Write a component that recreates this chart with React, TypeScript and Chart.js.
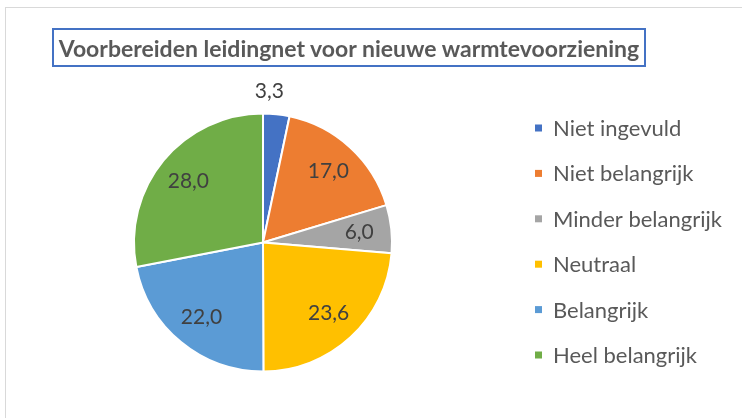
import React, { useEffect, useRef } from "react";
import { Chart, registerables } from "chart.js";

Chart.register(...registerables);

const titleText = "Voorbereiden leidingnet voor nieuwe warmtevoorziening";
const categories = [
  "Niet ingevuld",
  "Niet belangrijk",
  "Minder belangrijk",
  "Neutraal",
  "Belangrijk",
  "Heel belangrijk",
];
const values = [3.3, 17.0, 6.0, 23.6, 22.0, 28.0];
const colors = ["#4472C4", "#ED7D31", "#A5A5A5", "#FFC000", "#5B9BD5", "#70AD47"];

const FONT = "Lato, 'Open Sans', sans-serif";

const fmt = (v: number) => v.toFixed(1).replace(".", ",");

const labelPlugin = {
  id: "sliceLabels",
  afterDatasetsDraw(chart: any) {
    const ctx = chart.ctx;
    const meta = chart.getDatasetMeta(0);
    ctx.save();
    ctx.font = `21px ${FONT}`;
    ctx.fillStyle = "#404040";
    ctx.textAlign = "center";
    ctx.textBaseline = "middle";
    meta.data.forEach((arc: any, i: number) => {
      const p = arc.getProps(["x", "y", "startAngle", "endAngle", "outerRadius"], true);
      const v = chart.data.datasets[0].data[i] as number;
      let ang: number;
      let d: number;
      if (v < 5) {
        ang = p.startAngle + (p.endAngle - p.startAngle) * 0.2;
        d = p.outerRadius + 22;
      } else {
        ang = (p.startAngle + p.endAngle) / 2;
        d = p.outerRadius * 0.75;
      }
      ctx.fillText(fmt(v), p.x + Math.cos(ang) * d, p.y + Math.sin(ang) * d);
    });
    ctx.restore();
  },
};

const legendPlugin = {
  id: "sideLegend",
  afterDraw(chart: any) {
    const ctx = chart.ctx;
    const labels = chart.data.labels as string[];
    const bg = chart.data.datasets[0].backgroundColor as string[];
    const spacing = 45.4;
    const cy = 241.5;
    const x0 = 535;
    const n = labels.length;
    ctx.save();
    ctx.font = `22px ${FONT}`;
    ctx.textBaseline = "middle";
    ctx.textAlign = "left";
    labels.forEach((lab, i) => {
      const y = cy + (i - (n - 1) / 2) * spacing;
      ctx.fillStyle = bg[i];
      ctx.fillRect(x0, y - 3.5, 7, 7);
      ctx.fillStyle = "#595959";
      ctx.fillText(lab, x0 + 18, y + 1);
    });
    ctx.restore();
  },
};

export default function App() {
  const ref = useRef<HTMLCanvasElement | null>(null);
  useEffect(() => {
    document.body.style.margin = "0";
    if (!ref.current) return;
    const chart = new Chart(ref.current, {
      type: "pie",
      data: {
        labels: categories,
        datasets: [
          {
            data: values,
            backgroundColor: colors,
            borderColor: "#ffffff",
            borderWidth: 2,
          },
        ],
      },
      options: {
        animation: false,
        responsive: false,
        radius: 129,
        layout: { padding: { left: 0, right: 216, top: 67, bottom: 0 } },
        plugins: {
          legend: { display: false },
          tooltip: { enabled: false },
          title: { display: false },
        },
      } as any,
      plugins: [labelPlugin, legendPlugin],
    });
    return () => chart.destroy();
  }, []);

  return (
    <div
      style={{
        position: "fixed",
        left: 0,
        top: 0,
        width: 742,
        height: 418,
        background: "#ffffff",
        overflow: "hidden",
      }}
    >
      <div
        style={{
          position: "absolute",
          left: 5,
          top: 7,
          width: 900,
          height: 600,
          border: "1px solid #d9d9d9",
        }}
      />
      <canvas
        ref={ref}
        width={742}
        height={418}
        style={{ position: "absolute", left: 0, top: 0, width: 742, height: 418 }}
      />
      <div
        style={{
          position: "absolute",
          left: 52,
          top: 28,
          width: 590,
          height: 35,
          border: "2px solid #4472C4",
          display: "flex",
          alignItems: "center",
          justifyContent: "center",
          fontFamily: FONT,
          fontWeight: 700,
          fontSize: 23,
          color: "#595959",
          whiteSpace: "nowrap",
          boxSizing: "content-box",
        }}
      >
        {titleText}
      </div>
    </div>
  );
}
